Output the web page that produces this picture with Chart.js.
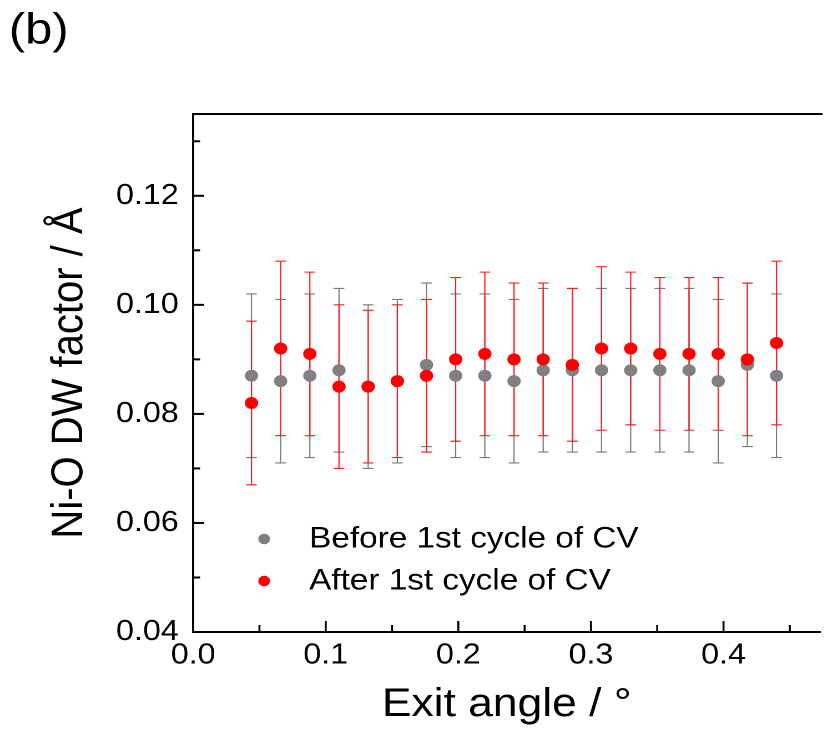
<!DOCTYPE html>
<html>
<head>
<meta charset="utf-8">
<title>Ni-O DW factor vs exit angle</title>
<script src="https://cdn.jsdelivr.net/npm/chart.js@4.4.1/dist/chart.umd.min.js"></script>
<style>
  html, body { margin: 0; padding: 0; background: #fff; overflow: hidden; }
  /* the figure is drawn on a 745px-wide canvas and widened 1.11x, like the exported panel */
  #wrap { width: 745px; height: 729px; transform: scaleX(1.11); transform-origin: 0 0; }
  canvas { display: block; }
</style>
</head>
<body>
<div id="wrap"><canvas id="c" width="745" height="729" style="width:745px;height:729px"></canvas></div>
<script>
// ---- data ----
const exitAngle = [0.044, 0.066, 0.088, 0.110, 0.132, 0.154, 0.176, 0.198, 0.220, 0.242,
                   0.264, 0.286, 0.308, 0.330, 0.352, 0.374, 0.396, 0.418, 0.440];

const beforeDW  = [0.087, 0.086, 0.087, 0.088, 0.085, 0.086, 0.089, 0.087, 0.087, 0.086,
                   0.088, 0.088, 0.088, 0.088, 0.088, 0.088, 0.086, 0.089, 0.087];
const beforeErr = [0.015, 0.015, 0.015, 0.015, 0.015, 0.015, 0.015, 0.015, 0.015, 0.015,
                   0.015, 0.015, 0.015, 0.015, 0.015, 0.015, 0.015, 0.015, 0.015];

const afterDW   = [0.082, 0.092, 0.091, 0.085, 0.085, 0.086, 0.087, 0.090, 0.091, 0.090,
                   0.090, 0.089, 0.092, 0.092, 0.091, 0.091, 0.091, 0.090, 0.093];
const afterErr  = [0.015, 0.016, 0.015, 0.015, 0.014, 0.014, 0.014, 0.015, 0.015, 0.014,
                   0.014, 0.014, 0.015, 0.014, 0.014, 0.014, 0.014, 0.014, 0.015];

const seriesNames = ['Before 1st cycle of CV', 'After 1st cycle of CV'];
const seriesColors = ['#808080', '#ff0000'];

const xMajorTicks = [0.0, 0.1, 0.2, 0.3, 0.4];
const xMinorTicks = [0.05, 0.15, 0.25, 0.35, 0.45];
const yMajorTicks = [0.04, 0.06, 0.08, 0.10, 0.12];
const yMinorTicks = [0.05, 0.07, 0.09, 0.11, 0.13];

const panelLabel = '(b)';
const xTitle = 'Exit angle / °';
const yTitle = 'Ni-O DW factor / Å';

// ---- styling ----
const FONT = "'Liberation Sans', Arial, Helvetica, sans-serif";
Chart.defaults.font.family = FONT;
Chart.defaults.color = '#000';

const errorLists = [beforeErr, afterErr];

// vertical error bars with caps, drawn under the markers
const errorBars = {
  id: 'errorBars',
  beforeDatasetsDraw(chart) {
    const { ctx, scales: { x, y } } = chart;
    ctx.save();
    chart.data.datasets.forEach((ds, di) => {
      const errs = errorLists[di];
      ctx.strokeStyle = ds.errorColor;
      ctx.lineWidth = 1.1;
      ds.data.forEach((p, i) => {
        const px = x.getPixelForValue(p.x);
        const yTop = y.getPixelForValue(p.y + errs[i]);
        const yBot = y.getPixelForValue(p.y - errs[i]);
        const cap = 4.8;
        ctx.beginPath();
        ctx.moveTo(px, yTop); ctx.lineTo(px, yBot);
        ctx.moveTo(px - cap, yTop); ctx.lineTo(px + cap, yTop);
        ctx.moveTo(px - cap, yBot); ctx.lineTo(px + cap, yBot);
        ctx.stroke();
      });
    });
    ctx.restore();
  }
};

// top frame line and inward tick marks
const frame = {
  id: 'frame',
  afterDraw(chart) {
    const { ctx, chartArea: a, scales: { x, y } } = chart;
    ctx.save();
    ctx.strokeStyle = '#000';
    ctx.lineWidth = 2;
    ctx.beginPath();
    ctx.moveTo(a.left - 1, a.top);
    ctx.lineTo(a.right + 2, a.top);
    ctx.stroke();

    ctx.lineWidth = 1.8;
    const xMark = (v, len) => {
      const px = x.getPixelForValue(v);
      ctx.beginPath(); ctx.moveTo(px, a.bottom); ctx.lineTo(px, a.bottom - len); ctx.stroke();
    };
    xMajorTicks.forEach(v => xMark(v, 11));
    xMinorTicks.forEach(v => xMark(v, 7));

    ctx.lineWidth = 2;
    const yMark = (v, len) => {
      const py = y.getPixelForValue(v);
      ctx.beginPath(); ctx.moveTo(a.left, py); ctx.lineTo(a.left + len, py); ctx.stroke();
    };
    yMajorTicks.forEach(v => yMark(v, 10));
    yMinorTicks.forEach(v => yMark(v, 6.3));
    ctx.restore();
  }
};

// legend placed inside the plot area, lower left
const insideLegend = {
  id: 'insideLegend',
  afterDraw(chart) {
    const { ctx, chartArea: a } = chart;
    ctx.save();
    ctx.font = '30px ' + FONT;
    ctx.textBaseline = 'middle';
    ctx.textAlign = 'left';
    const rowsY = [a.bottom - 93, a.bottom - 51];
    chart.data.datasets.forEach((ds, i) => {
      const cy = rowsY[i];
      ctx.fillStyle = ds.backgroundColor;
      ctx.beginPath();
      ctx.arc(a.left + 64, cy, 5.3, 0, Math.PI * 2);
      ctx.fill();
      ctx.fillStyle = '#000';
      ctx.fillText(ds.label, a.left + 104.5, cy);
    });
    ctx.restore();
  }
};

const toPoints = ys => exitAngle.map((xv, i) => ({ x: xv, y: ys[i] }));

new Chart(document.getElementById('c'), {
  type: 'scatter',
  data: {
    datasets: [
      {
        label: seriesNames[0],
        data: toPoints(beforeDW),
        backgroundColor: seriesColors[0],
        errorColor: '#7a7a7a',
        pointRadius: 6,
        borderWidth: 0,
        order: 1
      },
      {
        label: seriesNames[1],
        data: toPoints(afterDW),
        backgroundColor: seriesColors[1],
        errorColor: '#ff1a1a',
        pointRadius: 6,
        borderWidth: 0,
        order: 0
      }
    ]
  },
  options: {
    responsive: false,
    devicePixelRatio: 2,
    animation: false,
    events: [],
    layout: { padding: { left: 8, right: 0, top: 0, bottom: 0 } },
    plugins: {
      legend: { display: false },
      tooltip: { enabled: false },
      title: {
        display: true,
        text: panelLabel,
        align: 'start',
        color: '#000',
        font: { family: FONT, size: 44, weight: 'normal' },
        padding: { top: 5, bottom: 56.2 }
      }
    },
    scales: {
      x: {
        type: 'linear',
        min: 0,
        max: 0.473,
        afterBuildTicks: s => { s.ticks = xMajorTicks.map(v => ({ value: v })); },
        afterFit: s => { s.height = 97; },
        grid: { drawOnChartArea: false, drawTicks: false },
        border: { display: true, color: '#000', width: 2 },
        ticks: {
          padding: 6,
          color: '#000',
          autoSkip: false,
          maxRotation: 0,
          font: { family: FONT, size: 29 },
          callback: v => Number(v).toFixed(1)
        },
        title: {
          display: true,
          text: xTitle,
          color: '#000',
          font: { family: FONT, size: 40 },
          padding: { top: 0, bottom: 0 }
        }
      },
      y: {
        type: 'linear',
        min: 0.04,
        max: 0.135,
        afterBuildTicks: s => { s.ticks = yMajorTicks.map(v => ({ value: v })); },
        afterFit: s => { s.width = 166; },
        grid: { drawOnChartArea: false, drawTicks: false },
        border: { display: true, color: '#000', width: 2 },
        ticks: {
          padding: 13,
          color: '#000',
          autoSkip: false,
          font: { family: FONT, size: 29 },
          callback: v => Number(v).toFixed(2)
        },
        title: {
          display: true,
          text: yTitle,
          color: '#000',
          font: { family: FONT, size: 40 },
          padding: { top: 31, bottom: 0 }
        }
      }
    }
  },
  plugins: [errorBars, frame, insideLegend]
});
</script>
</body>
</html>
